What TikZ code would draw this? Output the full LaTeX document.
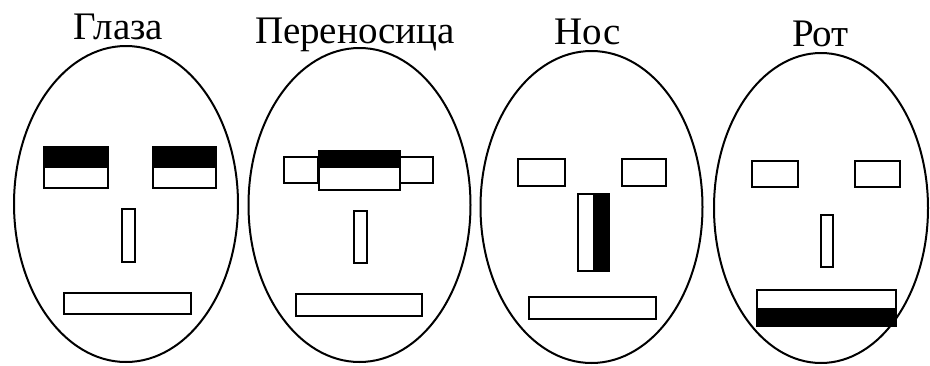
\documentclass[tikz,border=0pt]{standalone}
\usepackage{fontspec}
\setmainfont{Liberation Serif}
\begin{document}
\begin{tikzpicture}[x=1pt,y=-1pt,
  head/.style={draw=black,line width=2pt},
  feat/.style={draw=black,fill=white,line width=2pt},
  shade/.style={fill=black},
  title/.style={anchor=base,inner sep=0pt,font=\fontsize{39}{44}\selectfont}]
\useasboundingbox (0,0) rectangle (930,365);

% --- Глаза: eyes darkened on top
\node[title] (t1) at (118.5,39) {Глаза};
\draw[head] (126,204) ellipse [x radius=112pt, y radius=158pt];
\draw[feat] (44,147) rectangle (108,188);
\fill[shade] (44,147) rectangle (108,168);
\draw[line width=2pt] (44,147) rectangle (108,188);
\draw[feat] (153,147) rectangle (216,188);
\fill[shade] (153,147) rectangle (216,168);
\draw[line width=2pt] (153,147) rectangle (216,188);
\draw[feat] (122,209) rectangle (135,262);
\draw[feat] (64,293) rectangle (191,314);

% --- Переносица: bridge of the nose darkened on top
\node[title] (t2) at (355,43) {Переносица};
\draw[head] (359.5,205) ellipse [x radius=111pt, y radius=157pt];
\draw[feat] (284,157) rectangle (318,183);
\draw[feat] (400,157) rectangle (433,183);
\draw[feat] (319,151) rectangle (400,190);
\fill[shade] (319,151) rectangle (400,168);
\draw[line width=2pt] (319,151) rectangle (400,190);
\draw[feat] (354,211) rectangle (367,263);
\draw[feat] (296,294) rectangle (422,316);

% --- Нос: nose darkened on the right
\node[title] (t3) at (587.5,44) {Нос};
\draw[head] (591.5,207) ellipse [x radius=111pt, y radius=156pt];
\draw[feat] (518,159) rectangle (565,186);
\draw[feat] (622,159) rectangle (666,186);
\draw[feat] (578,194) rectangle (609,271);
\fill[shade] (593,194) rectangle (609,271);
\draw[line width=2pt] (578,194) rectangle (609,271);
\draw[feat] (529,297) rectangle (656,319);

% --- Рот: mouth darkened at the bottom
\node[title] (t4) at (820.5,46) {Рот};
\draw[head] (821,208) ellipse [x radius=107pt, y radius=155pt];
\draw[feat] (752,161) rectangle (798,187);
\draw[feat] (855,161) rectangle (900,187);
\draw[feat] (821,215) rectangle (833,267);
\draw[feat] (757,290) rectangle (896,326);
\fill[shade] (757,308) rectangle (896,326);
\draw[line width=2pt] (757,290) rectangle (896,326);
\end{tikzpicture}
\end{document}
